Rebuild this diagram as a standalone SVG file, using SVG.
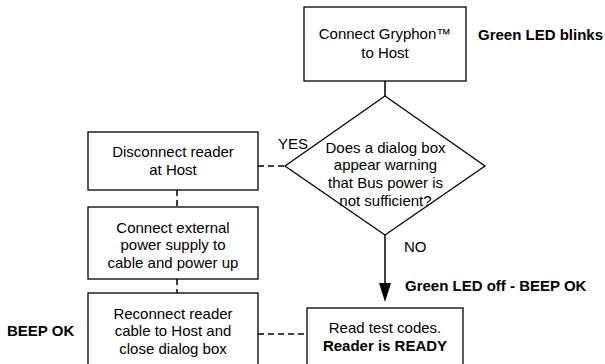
<svg xmlns="http://www.w3.org/2000/svg" width="605" height="364" viewBox="0 0 605 364">
  <style>
    .box { fill: #ffffff; stroke: #000000; stroke-width: 1.3; }
    .txt { font-family: "Liberation Sans", Arial, sans-serif; font-size: 15px; fill: #000000; }
    .mid { text-anchor: middle; }
    .b { font-weight: bold; }
    .solid { stroke: #000000; stroke-width: 1.5; fill: none; }
    .dash { stroke: #000000; stroke-width: 1.5; fill: none; stroke-dasharray: 6 4; }
  </style>
  <defs>
    <marker id="arrowhead" markerUnits="userSpaceOnUse" markerWidth="12" markerHeight="19" refX="12" refY="6" orient="auto">
      <path d="M0,0 L12,6 L0,12 Z" fill="#000000"/>
    </marker>
  </defs>

  <!-- connectors -->
  <g id="connectors">
    <line class="solid" x1="385" y1="81" x2="385" y2="96"/>
    <line class="dash" x1="258" y1="166" x2="285" y2="166"/>
    <line class="dash" x1="177" y1="190" x2="177" y2="207"/>
    <line class="dash" x1="177" y1="279" x2="177" y2="293"/>
    <line class="dash" x1="258" y1="334" x2="307" y2="334"/>
    <line class="solid" x1="385" y1="235" x2="385" y2="284"/>
    <path d="M379,283 L391,283 L385,302 Z" fill="#000000"/>
  </g>

  <!-- connect to host -->
  <g id="connect-host">
    <rect class="box" x="304" y="7" width="162" height="74"/>
    <text class="txt mid" x="385" y="38.5">Connect Gryphon™</text>
    <text class="txt mid" x="385" y="57.5">to Host</text>
  </g>

  <text class="txt b" x="478" y="40">Green LED blinks</text>

  <!-- bus power decision -->
  <g id="decision">
    <polygon class="box" points="385,96 485,166 385,235 285,166"/>
    <text class="txt mid" x="385.5" y="152.5">Does a dialog box</text>
    <text class="txt mid" x="385.5" y="170">appear warning</text>
    <text class="txt mid" x="385.5" y="187.5">that Bus power is</text>
    <text class="txt mid" x="385.5" y="205.5">not sufficient?</text>
  </g>

  <text class="txt" x="278" y="148.5">YES</text>
  <text class="txt" x="404" y="251.5">NO</text>

  <!-- disconnect -->
  <g id="disconnect">
    <rect class="box" x="88" y="132" width="170" height="58"/>
    <text class="txt mid" x="173" y="156.5">Disconnect reader</text>
    <text class="txt mid" x="173" y="174.5">at Host</text>
  </g>

  <!-- external power -->
  <g id="external-power">
    <rect class="box" x="88" y="207" width="170" height="72"/>
    <text class="txt mid" x="173" y="232.5">Connect external</text>
    <text class="txt mid" x="173" y="250">power supply to</text>
    <text class="txt mid" x="173" y="267.5">cable and power up</text>
  </g>

  <!-- reconnect -->
  <g id="reconnect">
    <rect class="box" x="88" y="293" width="170" height="74"/>
    <text class="txt mid" x="173" y="318.5">Reconnect reader</text>
    <text class="txt mid" x="173" y="336">cable to Host and</text>
    <text class="txt mid" x="173" y="353.5">close dialog box</text>
  </g>

  <text class="txt b" x="7" y="335.5">BEEP OK</text>

  <!-- ready -->
  <g id="ready">
    <rect class="box" x="307" y="308" width="156" height="60"/>
    <text class="txt mid" x="385" y="332.5">Read test codes.</text>
    <text class="txt mid b" x="385" y="350.5">Reader is READY</text>
  </g>

  <text class="txt b" x="405" y="290.5">Green LED off - BEEP OK</text>
</svg>
